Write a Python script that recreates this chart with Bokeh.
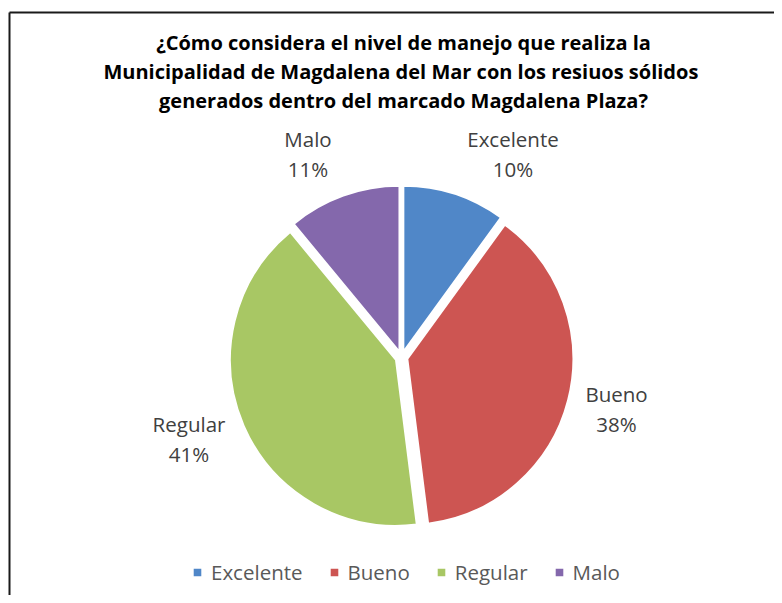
import numpy as np
from bokeh.plotting import figure
from bokeh.models import ColumnDataSource, Range1d, Label, Legend, LegendItem
from bokeh.embed import file_html
from bokeh.resources import INLINE

# ---- data ----
categories = ["Excelente", "Bueno", "Regular", "Malo"]
percent = [10, 38, 41, 11]
colors = ["#5087C8", "#CD5552", "#A8C764", "#8468AC"]
title_lines = [
    "¿Cómo considera el nivel de manejo que realiza la",
    "Municipalidad  de Magdalena del Mar con los resiuos sólidos",
    "generados dentro del marcado Magdalena Plaza?",
]

# ---- layout (pixel-like data coordinates) ----
W, H = 774, 595
CX, CY = 401.0, 238.0   # pie centre
R = 166.0               # pie radius
EXPLODE = 6.0           # explosion distance
label_pos = [(512.5, 457), (616, 202), (188.5, 172), (307.5, 457)]  # upper-line baseline

vals = np.array(percent, dtype=float)
frac = vals / vals.sum()
cum = np.concatenate([[0], np.cumsum(frac)])
theta1 = cum[:-1] * 2 * np.pi      # clockwise from top
theta2 = cum[1:] * 2 * np.pi
mid = (theta1 + theta2) / 2
start = np.pi / 2 - theta2
end = np.pi / 2 - theta1
xs = CX + EXPLODE * np.sin(mid)
ys = CY + EXPLODE * np.cos(mid)

src = ColumnDataSource(dict(x=xs, y=ys, start=start, end=end, color=colors, cat=categories))

p = figure(width=W, height=H, output_backend="svg", toolbar_location=None,
           x_range=Range1d(0, W), y_range=Range1d(0, H),
           x_axis_location=None, y_axis_location=None, min_border=0,
           outline_line_color=None, background_fill_color="white")
p.grid.visible = False

r = p.wedge(x="x", y="y", radius=R, start_angle="start", end_angle="end",
            fill_color="color", line_color="white", line_width=2, source=src)

# chart border (left and top only, as in reference)
p.segment(x0=[9, 9], y0=[-5, 583], x1=[9, 790], y1=[583, 583],
          line_color="#1a1a1a", line_width=2)

# title
for i, t in enumerate(title_lines):
    p.add_layout(Label(x=403, y=553 - 29 * i, text=t, text_align="center",
                       text_baseline="alphabetic", text_font="Open Sans",
                       text_font_style="bold", text_font_size="20px",
                       text_color="#000000"))

# data labels
for (lx, ly), c, v in zip(label_pos, categories, percent):
    p.add_layout(Label(x=lx, y=ly, text=c, text_align="center", text_baseline="alphabetic",
                       text_font="Open Sans", text_font_size="20.5px", text_color="#404040"))
    p.add_layout(Label(x=lx, y=ly - 30, text=f"{v}%", text_align="center",
                       text_baseline="alphabetic", text_font="Open Sans",
                       text_font_size="20.5px", text_color="#404040"))

items = [LegendItem(label=c, renderers=[r], index=i) for i, c in enumerate(categories)]
legend = Legend(items=items, orientation="horizontal", location=(191, 9),
                glyph_width=12, glyph_height=12, label_standoff=8, spacing=25,
                padding=0, margin=0, border_line_color=None, background_fill_alpha=0,
                label_text_font="Open Sans", label_text_font_size="20.5px",
                label_text_color="#595959")
p.add_layout(legend)

open("out.html", "w").write(file_html(p, INLINE))
